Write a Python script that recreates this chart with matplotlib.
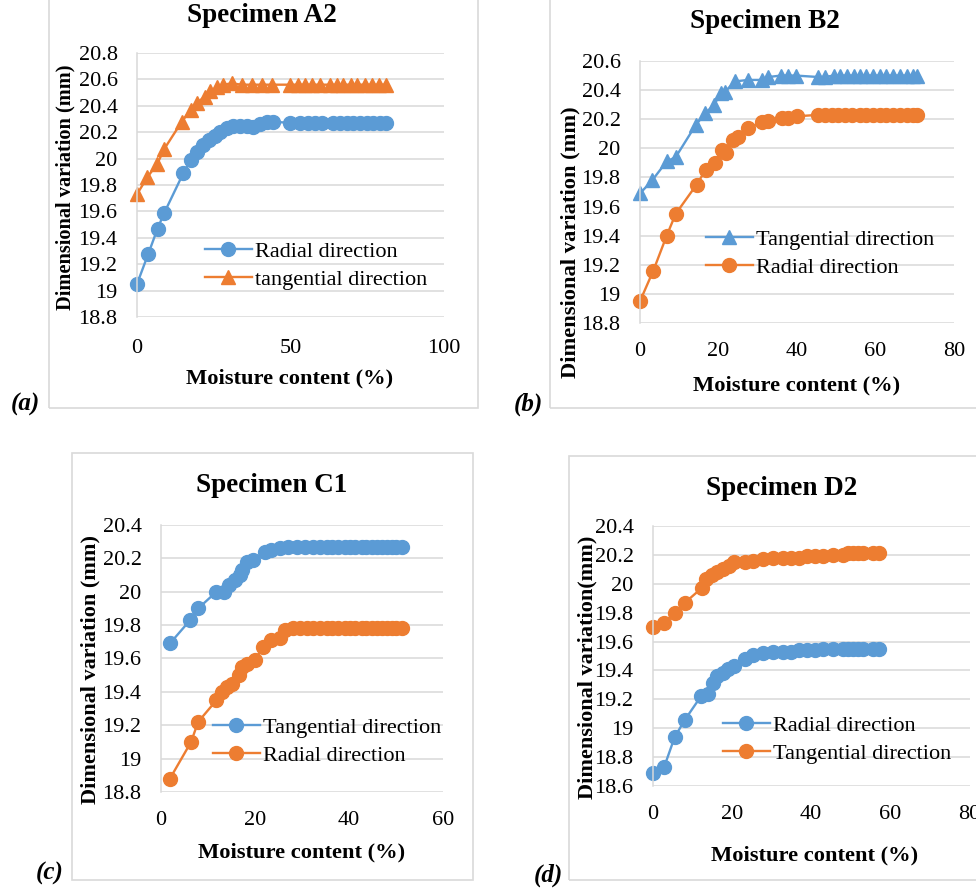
import matplotlib
matplotlib.use("Agg")
import matplotlib.pyplot as plt
from matplotlib.patches import Rectangle

plt.rcParams['font.family'] = ['Liberation Serif', 'DejaVu Serif']

BLUE = '#5B9BD5'
ORANGE = '#ED7D31'
GRID = '#d9d9d9'

W, H = 976, 888

# ---- Specimen A2 ----
a_radial_x = [0, 3.7, 6.7, 8.9, 15.1, 17.6, 19.4, 21.6, 23.5, 25.4, 27.0, 29.2, 31.4, 33.6, 35.7,
              37.9, 40.1, 42.2, 44.4, 49.8, 53.1, 55.8, 58.0, 60.2, 63.9, 66.1, 68.3, 70.5, 72.6,
              74.8, 77.0, 79.2, 81.1]
a_radial_y = [19.05, 19.28, 19.47, 19.59, 19.89, 19.99, 20.05, 20.10, 20.14, 20.17, 20.20, 20.23,
              20.25, 20.25, 20.25, 20.24, 20.26, 20.28, 20.28, 20.27, 20.27, 20.27, 20.27, 20.27,
              20.27, 20.27, 20.27, 20.27, 20.27, 20.27, 20.27, 20.27, 20.27]
a_tang_x = [0, 3.4, 6.6, 8.8, 14.6, 17.5, 19.4, 22.1, 23.8, 26.0, 28.1, 30.8, 34.1, 37.4, 40.6,
            43.9, 49.8, 52.5, 54.7, 57.1, 59.6, 62.9, 65.1, 67.2, 69.6, 71.8, 74.3, 76.4, 78.8, 81.1]
a_tang_y = [19.73, 19.86, 19.96, 20.07, 20.28, 20.37, 20.42, 20.47, 20.51, 20.54, 20.56, 20.57,
            20.56, 20.56, 20.56, 20.56, 20.56, 20.56, 20.56, 20.56, 20.56, 20.56, 20.56, 20.56,
            20.56, 20.56, 20.56, 20.56, 20.56, 20.56]

# ---- Specimen B2 ----
b_tang_x = [0, 3.1, 6.8, 9.1, 14.2, 16.6, 18.9, 20.6, 21.7, 24.2, 27.6, 31.0, 32.7, 35.9, 37.8,
            39.7, 45.4, 47.1, 49.3, 51.0, 52.7, 54.4, 56.0, 57.7, 59.4, 61.1, 62.8, 64.5, 66.2,
            67.9, 69.6, 70.5]
b_tang_y = [19.69, 19.78, 19.91, 19.94, 20.16, 20.24, 20.30, 20.38, 20.39, 20.46, 20.47, 20.47,
            20.49, 20.50, 20.50, 20.50, 20.49, 20.49, 20.50, 20.50, 20.50, 20.50, 20.50, 20.50,
            20.50, 20.50, 20.50, 20.50, 20.50, 20.50, 20.50, 20.50]
b_radial_x = [0, 3.4, 6.8, 9.1, 14.4, 16.7, 19.1, 20.8, 21.8, 23.8, 25.0, 27.6, 31.0, 32.7, 36.1,
              37.8, 39.9, 45.4, 47.1, 48.8, 50.5, 52.2, 53.9, 56.0, 57.7, 59.4, 61.1, 62.8, 64.5,
              66.2, 67.9, 69.6, 70.5]
b_radial_y = [18.95, 19.16, 19.40, 19.55, 19.75, 19.85, 19.90, 19.99, 19.97, 20.06, 20.08, 20.14,
              20.18, 20.19, 20.21, 20.21, 20.22, 20.23, 20.23, 20.23, 20.23, 20.23, 20.23, 20.23,
              20.23, 20.23, 20.23, 20.23, 20.23, 20.23, 20.23, 20.23, 20.23]

# ---- Specimen C1 ----
c_tang_x = [1.9, 6.2, 7.9, 11.8, 13.3, 14.5, 15.7, 16.8, 17.3, 18.2, 19.6, 22.1, 23.5, 25.3, 27.1,
            28.9, 30.6, 32.4, 33.8, 35.3, 36.3, 37.7, 39.1, 40.2, 41.3, 42.7, 43.7, 44.8, 45.9,
            47.0, 48.0, 49.1, 50.1, 51.2]
c_tang_y = [19.69, 19.83, 19.90, 20.00, 20.00, 20.04, 20.07, 20.10, 20.13, 20.18, 20.19, 20.24,
            20.25, 20.26, 20.27, 20.27, 20.27, 20.27, 20.27, 20.27, 20.27, 20.27, 20.27, 20.27,
            20.27, 20.27, 20.27, 20.27, 20.27, 20.27, 20.27, 20.27, 20.27, 20.27]
c_radial_x = [1.9, 6.4, 7.9, 11.8, 12.9, 14.0, 15.2, 16.5, 17.3, 18.4, 19.9, 21.8, 23.5, 25.3, 26.4,
              28.1, 29.6, 31.0, 32.4, 33.8, 35.3, 36.3, 37.7, 39.1, 40.2, 41.3, 42.7, 43.7, 44.8,
              45.9, 47.0, 48.0, 49.1, 50.1, 51.2]
c_radial_y = [18.88, 19.10, 19.22, 19.35, 19.40, 19.43, 19.45, 19.50, 19.55, 19.57, 19.59, 19.67,
              19.71, 19.72, 19.77, 19.78, 19.78, 19.78, 19.78, 19.78, 19.78, 19.78, 19.78, 19.78,
              19.78, 19.78, 19.78, 19.78, 19.78, 19.78, 19.78, 19.78, 19.78, 19.78, 19.78]

# ---- Specimen D2 ----
d_radial_x = [0, 2.8, 5.5, 8.1, 12.1, 14.0, 15.2, 16.1, 17.7, 19.0, 20.5, 23.2, 25.3, 27.8, 30.3,
              32.9, 35.0, 37.0, 39.0, 41.0, 43.0, 45.5, 48.0, 49.2, 50.5, 51.8, 53.0, 55.5, 57.0]
d_radial_y = [18.69, 18.73, 18.94, 19.06, 19.22, 19.24, 19.31, 19.36, 19.38, 19.41, 19.43, 19.48,
              19.51, 19.52, 19.53, 19.53, 19.53, 19.54, 19.54, 19.54, 19.55, 19.55, 19.55, 19.55,
              19.55, 19.55, 19.55, 19.55, 19.55]
d_tang_x = [0, 2.8, 5.5, 8.1, 12.3, 13.5, 14.8, 16.2, 17.7, 19.2, 20.4, 23.2, 25.3, 27.8, 30.3,
            32.9, 35.0, 37.0, 39.0, 41.0, 43.0, 45.5, 48.0, 49.2, 50.5, 51.8, 53.0, 55.5, 57.0]
d_tang_y = [19.70, 19.73, 19.80, 19.87, 19.97, 20.03, 20.06, 20.08, 20.10, 20.12, 20.15, 20.15,
            20.16, 20.17, 20.18, 20.18, 20.18, 20.18, 20.19, 20.19, 20.19, 20.20, 20.20, 20.21,
            20.21, 20.21, 20.21, 20.21, 20.21]


def fx(px):
    return px / W


def fy(py):
    return 1 - py / H


fig = plt.figure(figsize=(W / 100, H / 100), dpi=100)

# chart-area frames (x0, y0, x1, y1 in pixels)
frames = [(49, -5, 478, 408), (550, -5, 990, 408), (72, 453, 473, 880), (569, 456, 990, 880)]
for x0, y0, x1, y1 in frames:
    fig.patches.append(Rectangle((fx(x0), fy(y1)), fx(x1) - fx(x0), fy(y0) - fy(y1),
                                 transform=fig.transFigure, fill=False, edgecolor=GRID, lw=1.2))

panels = [
    dict(box=(137, 53, 444, 317), xlim=(0, 100), xstep=50, ylim=(18.8, 20.8),
         series=[(a_radial_x, a_radial_y, BLUE, 'o', 'Radial direction'),
                 (a_tang_x, a_tang_y, ORANGE, '^', 'tangential direction')],
         title='Specimen A2', title_pos=(262, 16), xlab_pos=(290, 378), ylab_pos=(65, 187),
         ylab='Dimensional variation (mm)', ylab_size=14.7, tag='(a)', tag_pos=(25, 404),
         leg=(205, 241), xpad=16),
    dict(box=(640, 61, 954, 323), xlim=(0, 80), xstep=20, ylim=(18.8, 20.6),
         series=[(b_tang_x, b_tang_y, BLUE, '^', 'Tangential direction'),
                 (b_radial_x, b_radial_y, ORANGE, 'o', 'Radial direction')],
         title='Specimen B2', title_pos=(765, 22), xlab_pos=(797, 385), ylab_pos=(570, 242),
         ylab='Dimensional variation (mm)', ylab_size=16.2, tag='(b)', tag_pos=(528, 404),
         leg=(706, 229), xpad=14),
    dict(box=(161, 525, 443, 792), xlim=(0, 60), xstep=20, ylim=(18.8, 20.4),
         series=[(c_tang_x, c_tang_y, BLUE, 'o', 'Tangential direction'),
                 (c_radial_x, c_radial_y, ORANGE, 'o', 'Radial direction')],
         title='Specimen C1', title_pos=(272, 485), xlab_pos=(302, 852), ylab_pos=(90, 669),
         ylab='Dimensional variation (mm)', ylab_size=16, tag='(c)', tag_pos=(50, 873),
         leg=(213, 717), xpad=14),
    dict(box=(653, 526, 969.5, 786), xlim=(0, 80), xstep=20, ylim=(18.6, 20.4),
         series=[(d_radial_x, d_radial_y, BLUE, 'o', 'Radial direction'),
                 (d_tang_x, d_tang_y, ORANGE, 'o', 'Tangential direction')],
         title='Specimen D2', title_pos=(782, 488), xlab_pos=(815, 855), ylab_pos=(587, 667),
         ylab='Dimensional variation(mm)', ylab_size=16, tag='(d)', tag_pos=(548, 875),
         leg=(723, 715), xpad=14),
]

for p in panels:
    x0, y0, x1, y1 = p['box']
    ax = fig.add_axes([fx(x0), fy(y1), fx(x1) - fx(x0), fy(y0) - fy(y1)])
    for xs, ys, color, marker, label in p['series']:
        ms = 10 if marker == 'o' else 9.5
        ax.plot(xs, ys, color=color, marker=marker, ms=ms, lw=1.7, label=label, clip_on=False)
    ax.set_xlim(*p['xlim'])
    ax.set_ylim(*p['ylim'])
    ax.set_xticks(range(p['xlim'][0], p['xlim'][1] + 1, p['xstep']))
    yt = [round(p['ylim'][0] + 0.2 * i, 1) for i in range(int(round((p['ylim'][1] - p['ylim'][0]) / 0.2)) + 1)]
    ax.set_yticks(yt)
    ax.set_yticklabels([('%g' % v) for v in yt])
    ax.grid(axis='y', color=GRID, lw=1.1)
    ax.set_axisbelow(True)
    for s in ['top', 'right', 'bottom']:
        ax.spines[s].set_visible(False)
    ax.spines['left'].set_color(GRID)
    ax.spines['left'].set_linewidth(1.1)
    ax.tick_params(axis='y', length=0, pad=14, labelsize=16)
    ax.tick_params(axis='x', length=0, pad=p['xpad'], labelsize=16)

    lx, ly = p['leg']
    ax.legend(loc='upper left', bbox_to_anchor=(fx(lx), fy(ly)), bbox_transform=fig.transFigure,
              frameon=False, fontsize=16, handlelength=2.1, handletextpad=0.15,
              labelspacing=0.36, borderpad=0, borderaxespad=0)

    fig.text(fx(p['title_pos'][0]), fy(p['title_pos'][1]), p['title'], ha='center', va='center',
             fontsize=19.5, fontweight='bold')
    fig.text(fx(p['xlab_pos'][0]), fy(p['xlab_pos'][1]), 'Moisture content (%)', ha='center',
             va='center', fontsize=16.2, fontweight='bold')
    fig.text(fx(p['ylab_pos'][0]), fy(p['ylab_pos'][1]), p['ylab'], ha='center', va='center',
             rotation=90, fontsize=p['ylab_size'], fontweight='bold')
    fig.text(fx(p['tag_pos'][0]), fy(p['tag_pos'][1]), p['tag'], ha='center', va='center',
             fontsize=18, fontweight='bold', fontstyle='italic')

fig.savefig('out.png', dpi=100)
